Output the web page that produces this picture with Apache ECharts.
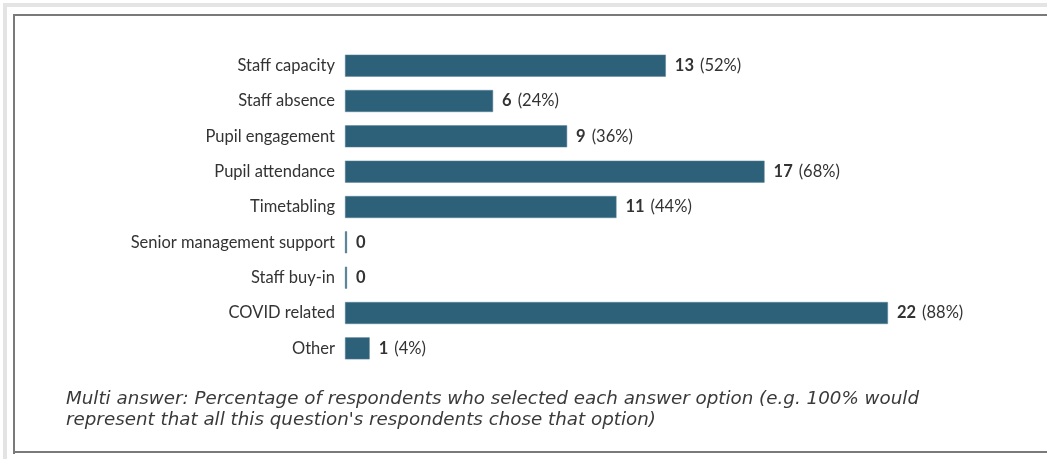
<!DOCTYPE html>
<html>
<head>
<meta charset="utf-8">
<style>
  html, body { margin: 0; padding: 0; background: #fff; }
  #chart { width: 1047px; height: 459px; }
</style>
<script src="https://cdn.jsdelivr.net/npm/echarts@6/dist/echarts.min.js"></script>
</head>
<body>
<div id="chart"></div>
<script>
// answer options, top to bottom
var categories = ["Staff capacity", "Staff absence", "Pupil engagement", "Pupil attendance",
  "Timetabling", "Senior management support", "Staff buy-in", "COVID related", "Other"];
var counts = [13, 6, 9, 17, 11, 0, 0, 22, 1];
var percents = [52, 24, 36, 68, 44, 0, 0, 88, 4];
var totalRespondents = 25;
var footnote = "Multi answer: Percentage of respondents who selected each answer option (e.g. 100% would\nrepresent that all this question's respondents chose that option)";

var chart = echarts.init(document.getElementById("chart"));

var option = {
  animation: false,
  textStyle: { fontFamily: "Lato" },
  grid: { left: 345, top: 48, width: 617, height: 318, containLabel: false },
  xAxis: {
    type: "value",
    min: 0,
    max: totalRespondents,
    show: false
  },
  yAxis: {
    type: "category",
    inverse: true,
    data: categories,
    axisLine: { show: false },
    axisTick: { show: false },
    axisLabel: { margin: 10, color: "#333", fontSize: 16.5, fontFamily: "Lato" }
  },
  series: [
    {
      type: "bar",
      data: counts,
      barWidth: 22,
      barMinHeight: 2,
      itemStyle: { color: "#2d6079", borderColor: "#5d8598", borderWidth: 0.5 },
      label: {
        show: true,
        position: "right",
        distance: 9,
        formatter: function(p) {
          var i = p.dataIndex;
          if (counts[i] === 0) return "{b|0}";
          return "{b|" + counts[i] + "}{n|(" + percents[i] + "%)}";
        },
        rich: {
          b: { fontWeight: "bold", fontSize: 16.5, color: "#333", fontFamily: "Lato", padding: [0, 6, 0, 0] },
          n: { fontSize: 16.5, color: "#333", fontFamily: "Lato" }
        }
      }
    }
  ],
  graphic: [
    // outer light border
    { type: "rect", shape: { x: 3, y: 3, width: 1060, height: 4 }, style: { fill: "#e4e4e4" }, silent: true },
    { type: "rect", shape: { x: 3, y: 3, width: 4, height: 460 }, style: { fill: "#e4e4e4" }, silent: true },
    // panel frame
    { type: "rect", shape: { x: 13, y: 14, width: 1060, height: 2 }, style: { fill: "#7a7a7a" }, silent: true },
    { type: "rect", shape: { x: 13, y: 14, width: 2, height: 440 }, style: { fill: "#7a7a7a" }, silent: true },
    { type: "rect", shape: { x: 13, y: 451, width: 1060, height: 2 }, style: { fill: "#7a7a7a" }, silent: true },
    {
      type: "text",
      left: 66,
      top: 389,
      style: {
        text: footnote,
        fill: "#3a3a3a",
        font: "italic 18.3px 'DejaVu Sans'",
        lineHeight: 21
      },
      silent: true
    }
  ]
};

chart.setOption(option);
</script>
</body>
</html>
